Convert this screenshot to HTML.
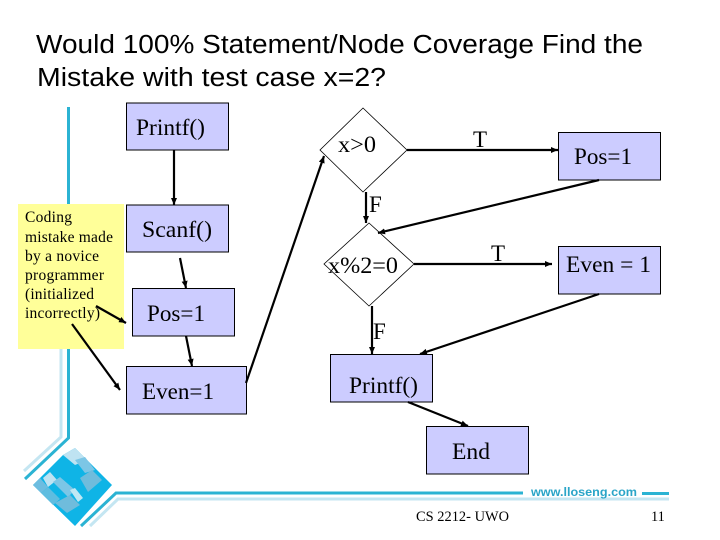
<!DOCTYPE html>
<html>
<head>
<meta charset="utf-8">
<style>
html,body{margin:0;padding:0;background:#fff}
svg{display:block}
.t{font-family:"Liberation Serif",serif;fill:#000}
.s{font-family:"Liberation Sans",sans-serif;fill:#000}
.b{fill:#ccccff;stroke:#000;stroke-width:1}
.l{stroke:#000;stroke-width:2.200;fill:none}
</style>
</head>
<body>
<svg width="720" height="540" viewBox="0 0 720 540" xmlns="http://www.w3.org/2000/svg">
<defs>
<marker id="a" markerUnits="userSpaceOnUse" markerWidth="8" markerHeight="8" refX="7" refY="4" orient="auto">
<path d="M0 1L7 4L0 7z" fill="#000"/>
</marker>
</defs>
<rect width="720" height="540" fill="#fff"/>

<!-- template lines -->
<path d="M61 349V437L24 471" fill="none" stroke="#c4e6f2" stroke-width="3"/>
<path d="M68.500 107V438L25 479" fill="none" stroke="#2bb3d3" stroke-width="3"/>
<path d="M523 493H116L81 526" fill="none" stroke="#2bb3d3" stroke-width="3"/>
<path d="M669 499H118L90 526" fill="none" stroke="#c4e6f2" stroke-width="3"/>
<path d="M642 493.500H669" stroke="#2bb3d3" stroke-width="3"/>
<text x="531" y="496" class="s" font-size="11.500" font-weight="bold" style="fill:#2aa5c8" textLength="106" lengthAdjust="spacingAndGlyphs">www.lloseng.com</text>

<!-- logo -->
<polygon points="33,485 63,455 75,448 112,485 75,526" fill="#0fb4e6"/>
<polygon points="63,455 75,448 87,460 75,465" fill="#bfe3f2"/>
<polygon points="33,485 40,478 48,487 41,493" fill="#6dbde0"/>
<polygon points="43,478 50,472 57,480 48,487" fill="#bfe3f2"/>
<polygon points="53,482 60,477 75,490 68,497" fill="#7cc6e6"/>
<polygon points="41,493 48,487 60,499 53,505" fill="#5fbde0"/>
<polygon points="75,460 85,457 95,470 85,473" fill="#7cc6e6"/>
<polygon points="80,478 92,470 102,480 88,492" fill="#6fbcdc"/>
<polygon points="55,503 70,495 80,505 67,513" fill="#6fbcdc"/>
<polygon points="70,490 75,488 83,498 78,502" fill="#bfe8f4"/>

<!-- title -->
<text x="36" y="53" class="s" font-size="25.500" textLength="607" lengthAdjust="spacingAndGlyphs">Would 100% Statement/Node Coverage Find the</text>
<text x="37" y="86" class="s" font-size="25.500" textLength="349" lengthAdjust="spacingAndGlyphs">Mistake with test case x=2?</text>

<!-- yellow note -->
<rect x="18" y="204" width="106" height="145" fill="#ffff99"/>
<g class="t" font-size="15.500">
<text x="25" y="222" textLength="47">Coding</text>
<text x="25" y="242" textLength="88">mistake made</text>
<text x="25" y="261" textLength="74">by a novice</text>
<text x="25" y="280" textLength="79">programmer</text>
<text x="25" y="299" textLength="69">(initialized</text>
<text x="25" y="318" textLength="75">incorrectly)</text>
</g>

<!-- boxes -->
<rect class="b" x="126.500" y="103" width="102" height="47"/>
<rect class="b" x="126.500" y="205" width="102" height="47"/>
<rect class="b" x="132.500" y="288.500" width="102" height="47.500"/>
<rect class="b" x="126.500" y="366.500" width="120" height="47.500"/>
<rect class="b" x="558.500" y="132.500" width="102" height="47.500"/>
<rect class="b" x="558.500" y="246.500" width="102" height="47.500"/>
<rect class="b" x="330.500" y="354.500" width="102" height="47.500"/>
<rect class="b" x="426.500" y="426.500" width="102" height="47.500"/>

<!-- diamonds -->
<polygon points="363,108 407,150 363,192 320,150" fill="#fff" stroke="#000" stroke-width="0.800"/>
<polygon points="369,223 414,264 369,306 324,264" fill="#fff" stroke="#000" stroke-width="0.800"/>

<!-- connectors -->
<g class="l">
<line x1="174" y1="150" x2="174" y2="205" marker-end="url(#a)"/>
<line x1="180" y1="258" x2="186" y2="288" marker-end="url(#a)"/>
<line x1="186" y1="336" x2="192" y2="366" marker-end="url(#a)"/>
<line x1="246" y1="383" x2="324" y2="156" marker-end="url(#a)"/>
<line x1="407" y1="150" x2="558" y2="150" marker-end="url(#a)"/>
<line x1="414" y1="264" x2="552" y2="264" marker-end="url(#a)"/>
<line x1="366" y1="192" x2="366" y2="223" marker-end="url(#a)"/>
<line x1="599" y1="180" x2="378" y2="233" marker-end="url(#a)"/>
<line x1="599" y1="294" x2="420" y2="354" marker-end="url(#a)"/>
<line x1="372" y1="306" x2="372" y2="354" marker-end="url(#a)"/>
<line x1="408" y1="402" x2="468" y2="426" marker-end="url(#a)"/>
<line x1="96" y1="306" x2="126" y2="323" marker-end="url(#a)"/>
<line x1="72" y1="324" x2="120" y2="390" marker-end="url(#a)"/>
</g>

<!-- labels -->
<g class="t" font-size="23">
<text x="136" y="135" textLength="69" lengthAdjust="spacingAndGlyphs">Printf()</text>
<text x="142" y="237" textLength="70" lengthAdjust="spacingAndGlyphs">Scanf()</text>
<text x="147" y="321" textLength="58" lengthAdjust="spacingAndGlyphs">Pos=1</text>
<text x="142" y="399" textLength="72" lengthAdjust="spacingAndGlyphs">Even=1</text>
<text x="338" y="152" textLength="38" lengthAdjust="spacingAndGlyphs">x&gt;0</text>
<text x="328" y="273" textLength="70" lengthAdjust="spacingAndGlyphs">x%2=0</text>
<text x="574" y="164" textLength="58" lengthAdjust="spacingAndGlyphs">Pos=1</text>
<text x="566" y="272" textLength="85" lengthAdjust="spacingAndGlyphs">Even = 1</text>
<text x="349" y="393" textLength="69" lengthAdjust="spacingAndGlyphs">Printf()</text>
<text x="452" y="459" textLength="38" lengthAdjust="spacingAndGlyphs">End</text>
<text x="473" y="147">T</text>
<text x="491" y="261">T</text>
<text x="369" y="212">F</text>
<text x="373" y="339">F</text>
</g>

<!-- footer -->
<text x="416" y="521" class="t" font-size="14.400" textLength="93">CS 2212- UWO</text>
<text x="651" y="521" class="t" font-size="14.400">11</text>
</svg>
</body>
</html>
